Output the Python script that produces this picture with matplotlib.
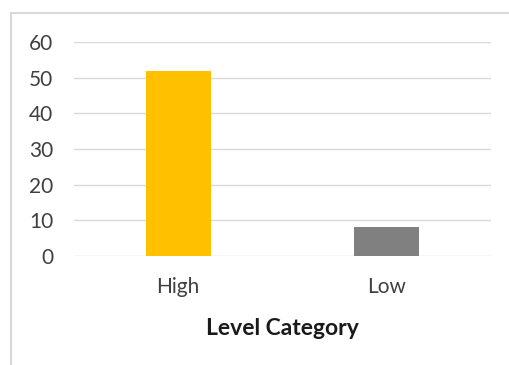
import matplotlib
matplotlib.use("Agg")
import matplotlib.pyplot as plt

categories = ["High", "Low"]
values = [52, 8]
colors = ["#FFC000", "#808080"]
yticks = [0, 10, 20, 30, 40, 50, 60]

W, H = 509, 365
fig = plt.figure(figsize=(W/100, H/100), dpi=100)
plt.rcParams['font.family'] = ['Lato', 'DejaVu Sans']

# outer chart border (left and top visible)
fig.add_artist(plt.Line2D([11/W, 11/W], [0, 1-13/H], color="#d9d9d9", lw=1.5, transform=fig.transFigure))
fig.add_artist(plt.Line2D([11/W, 1], [1-13/H, 1-13/H], color="#d9d9d9", lw=1.5, transform=fig.transFigure))

ax = fig.add_axes([74/W, 1-256/H, (491-74)/W, (256-42)/H])
x = range(len(categories))
ax.bar(x, values, width=0.31, color=colors, zorder=3)
ax.set_xlim(-0.5, 1.5)
ax.set_ylim(0, 60)
ax.set_yticks(yticks)
ax.set_xticks(list(x))
ax.set_xticklabels(categories)
ax.grid(axis='y', color="#d9d9d9", lw=1, zorder=0)
for s in ax.spines.values():
    s.set_visible(False)
ax.tick_params(axis='both', length=0, colors="#404040", labelsize=15)
ax.tick_params(axis='y', pad=15)
ax.tick_params(axis='x', pad=15)
ax.set_xlabel("Level Category", fontsize=16.5, fontweight='bold', color="#1a1a1a", labelpad=15)

fig.savefig("out.png", dpi=100)
